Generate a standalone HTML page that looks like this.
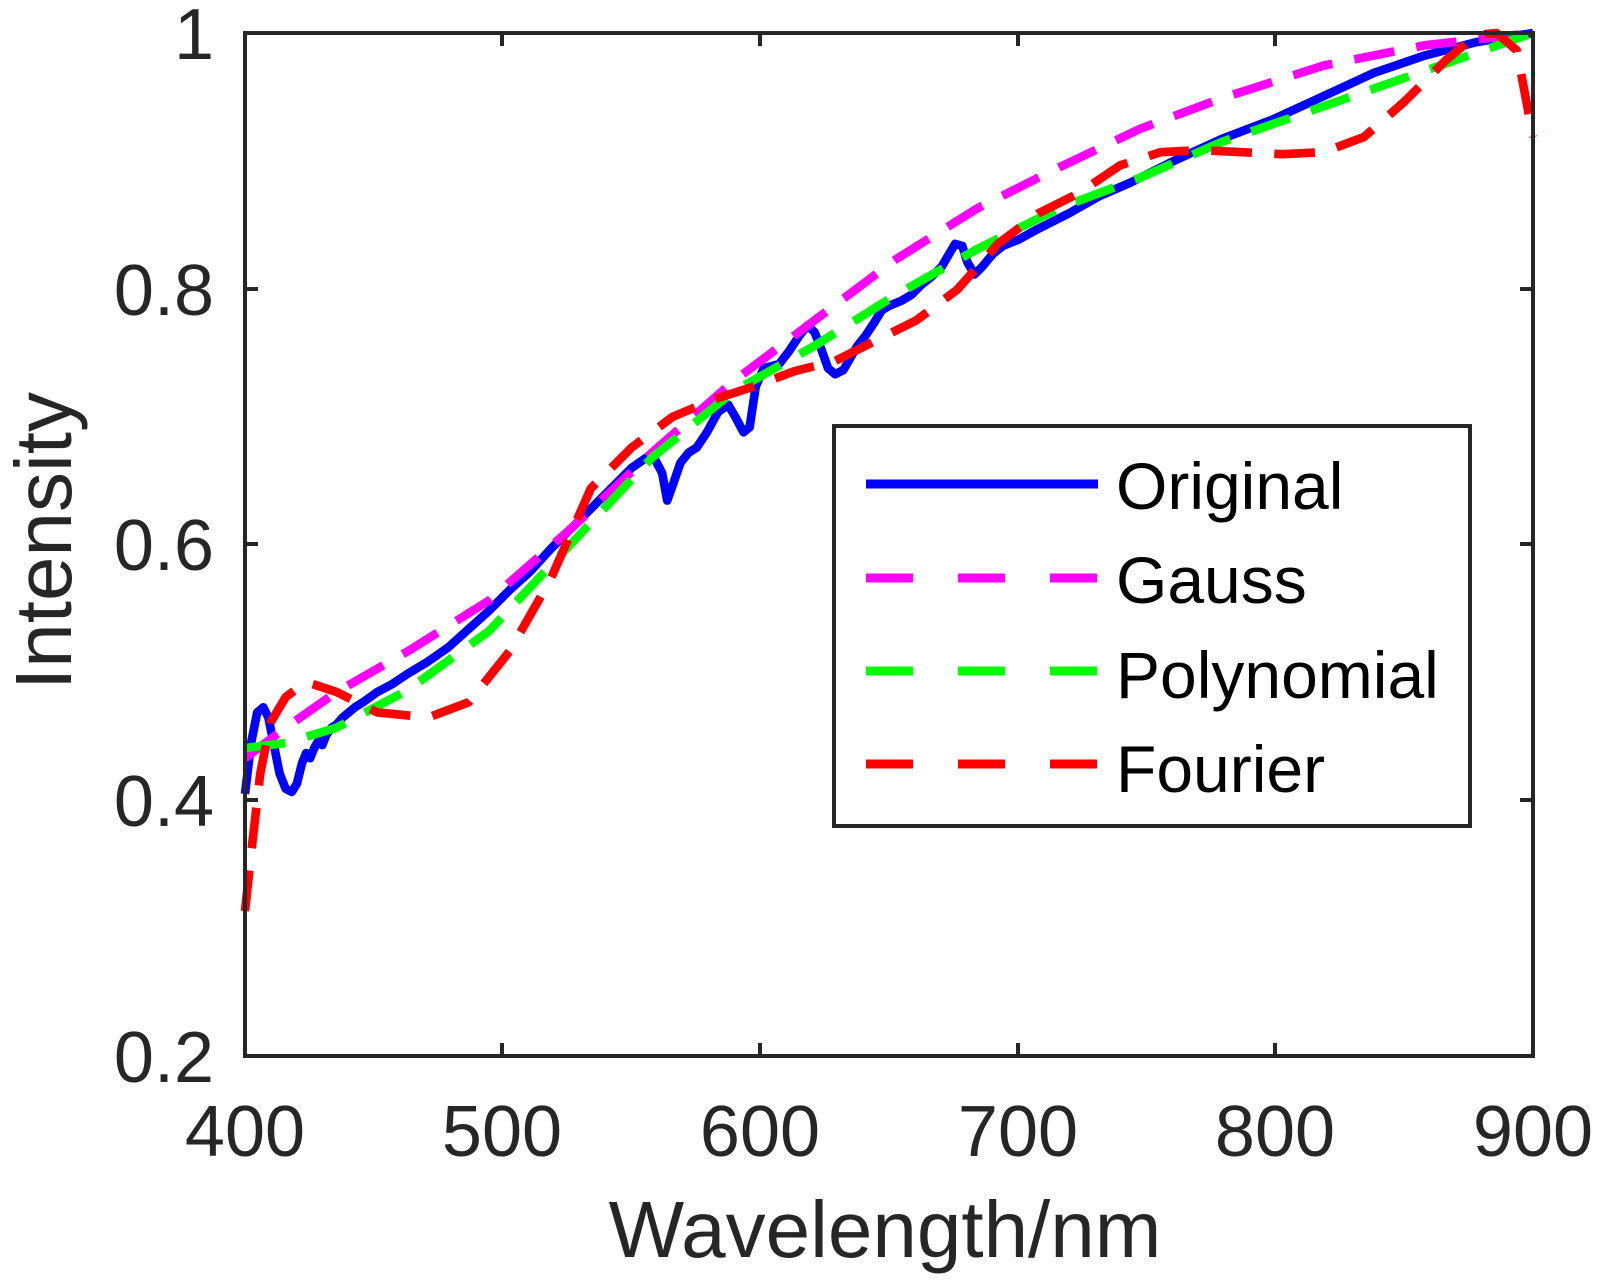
<!DOCTYPE html><html><head><style>body{margin:0;background:#fff}svg{display:block}</style></head><body>
<svg width="1597" height="1281" xmlns="http://www.w3.org/2000/svg" font-family="Liberation Sans, Arial, sans-serif" fill="#262626">
<rect width="1597" height="1281" fill="#fff"/>
<g transform="translate(245,33) scale(1.0174,1.0186) translate(-240,-33)">
<g fill="none" stroke-width="8.5" stroke-linejoin="round">
<polyline stroke="#0000ff" points="240,780 246,730 252,700 258,695 263,705 268,730 274,760 280,775 286,778 291,770 296,750 300,740 304,745 308,735 312,728 316,732 320,722 325,715 330,712 336,705 342,700 348,695 356,690 370,680 385,672 400,662 420,650 440,636 460,618 480,600 500,580 520,562 540,540 560,520 580,500 600,480 620,460 640,446 650,465 655,492 660,478 668,455 676,445 684,440 694,425 705,405 715,398 722,410 730,425 736,420 742,380 750,362 758,360 765,358 775,345 785,330 793,320 800,327 807,345 813,362 820,368 828,364 835,352 842,340 850,330 858,318 866,305 875,300 885,296 895,290 905,280 915,272 925,262 932,250 938,240 945,242 950,258 957,270 965,262 975,250 985,242 1000,236 1020,225 1050,210 1080,193 1110,180 1150,160 1200,137 1250,118 1300,95 1350,72 1400,55 1450,42 1506,33"/>
<polyline stroke="#ff00ff" stroke-dasharray="40,22" points="240,745 280,715 330,680 400,640 480,590 560,520 640,445 720,375 800,315 880,255 960,205 1040,165 1120,127 1200,97 1300,65 1400,45 1506,33"/>
<polyline stroke="#00ff00" stroke-dasharray="40,22" points="240,735 280,730 330,715 400,678 480,620 560,535 640,450 720,385 800,340 880,290 960,245 1040,205 1120,175 1200,140 1300,105 1400,70 1506,33"/>
<polyline stroke="#ff0000" stroke-dasharray="40,22" points="240,895 247,830 255,760 265,710 280,685 300,670 330,680 370,700 420,705 460,690 500,640 540,570 580,480 620,440 660,410 700,393 740,380 780,365 820,355 860,335 900,315 940,285 980,240 1020,210 1060,190 1100,163 1140,150 1180,148 1220,150 1260,152 1300,150 1340,135 1380,100 1420,60 1450,35 1470,33 1490,50 1506,135"/>
</g>
</g>
<g stroke="#262626" stroke-width="4" fill="none">
<rect x="245" y="33" width="1288" height="1023"/>
<path d="M245,289h13M245,544h13M245,800h13M1533,289h-13M1533,544h-13M1533,800h-13M502,1056v-13M760,1056v-13M1018,1056v-13M1275,1056v-13M502,33v13M760,33v13M1018,33v13M1275,33v13"/>
<rect x="834" y="426" width="636" height="400" fill="#fff"/>
</g>
<g stroke-width="9">
<line x1="866" y1="484" x2="1098" y2="484" stroke="#0000ff"/>
<line x1="866" y1="578" x2="1098" y2="578" stroke="#ff00ff" stroke-dasharray="47,45"/>
<line x1="866" y1="671" x2="1098" y2="671" stroke="#00ff00" stroke-dasharray="47,45"/>
<line x1="866" y1="764" x2="1098" y2="764" stroke="#ff0000" stroke-dasharray="47,45"/>
</g>
<g font-size="66" fill="#000">
<text x="1116" y="509">Original</text>
<text x="1116" y="603">Gauss</text>
<text x="1116" y="698">Polynomial</text>
<text x="1116" y="792">Fourier</text>
</g>
<g font-size="72" text-anchor="end">
<text x="214" y="59">1</text><text x="214" y="315">0.8</text><text x="214" y="570">0.6</text><text x="214" y="826">0.4</text><text x="214" y="1082">0.2</text>
</g>
<g font-size="72" text-anchor="middle">
<text x="245" y="1156">400</text><text x="502" y="1156">500</text><text x="760" y="1156">600</text><text x="1018" y="1156">700</text><text x="1275" y="1156">800</text><text x="1533" y="1156">900</text>
<text x="885" y="1257" font-size="80">Wavelength/nm</text>
<text transform="translate(71,541) rotate(-90)" font-size="80">Intensity</text>
</g>
</svg></body></html>
